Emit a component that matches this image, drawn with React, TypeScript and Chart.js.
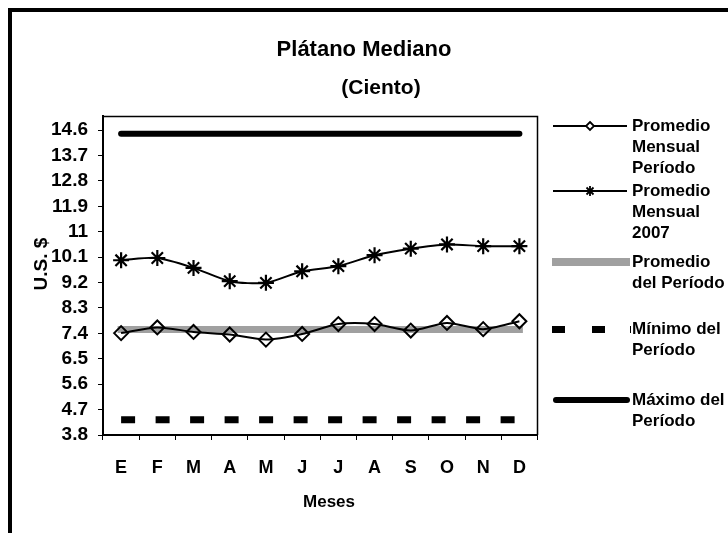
import { useEffect, useRef } from "react";
import { Chart, registerables } from "chart.js";

Chart.register(...registerables);

const months = ["E", "F", "M", "A", "M", "J", "J", "A", "S", "O", "N", "D"];
const promedioMensualPeriodo = [7.41, 7.61, 7.45, 7.36, 7.18, 7.38, 7.73, 7.73, 7.5, 7.77, 7.55, 7.83];
const promedioMensual2007 = [9.99, 10.07, 9.72, 9.25, 9.19, 9.6, 9.78, 10.17, 10.4, 10.55, 10.49, 10.49];
const promedioDelPeriodo = [7.54, 7.54, 7.54, 7.54, 7.54, 7.54, 7.54, 7.54, 7.54, 7.54, 7.54, 7.54];
const minimoDelPeriodo = [4.34, 4.34, 4.34, 4.34, 4.34, 4.34, 4.34, 4.34, 4.34, 4.34, 4.34, 4.34];
const maximoDelPeriodo = [14.47, 14.47, 14.47, 14.47, 14.47, 14.47, 14.47, 14.47, 14.47, 14.47, 14.47, 14.47];
const yTickValues = [3.8, 4.7, 5.6, 6.5, 7.4, 8.3, 9.2, 10.1, 11, 11.9, 12.8, 13.7, 14.6];
const yTickLabels = ["3.8", "4.7", "5.6", "6.5", "7.4", "8.3", "9.2", "10.1", "11", "11.9", "12.8", "13.7", "14.6"];
const legendLabels = [
  ["Promedio", "Mensual", "Período"],
  ["Promedio", "Mensual", "2007"],
  ["Promedio", "del Período"],
  ["Mínimo del", "Período"],
  ["Máximo del", "Período"],
];
const chartTitle = "Plátano Mediano";
const chartSubtitle = "(Ciento)";
const xTitle = "Meses";
const yTitle = "U.S. $";

const FONT = "'Liberation Sans', Arial, Helvetica, sans-serif";
const BAND = "#a0a0a0";

const decorPlugin = {
  id: "decor",
  afterDraw(chart: any) {
    const ctx = chart.ctx as CanvasRenderingContext2D;
    const a = chart.chartArea;
    ctx.save();
    // outer frame (top + left)
    ctx.fillStyle = "#000";
    ctx.fillRect(8, 8, 720, 4);
    ctx.fillRect(8, 8, 4, 525);
    // plot area border top/right
    ctx.strokeStyle = "#000";
    ctx.lineWidth = 1.5;
    ctx.beginPath();
    ctx.moveTo(a.left, a.top + 0.5);
    ctx.lineTo(a.right, a.top + 0.5);
    ctx.lineTo(a.right, a.bottom);
    ctx.stroke();

    // titles
    ctx.fillStyle = "#000";
    ctx.textAlign = "center";
    ctx.textBaseline = "middle";
    ctx.font = `bold 22px ${FONT}`;
    ctx.fillText(chartTitle, 364, 50);
    ctx.font = `bold 21px ${FONT}`;
    ctx.fillText(chartSubtitle, 381, 88);
    ctx.font = `bold 17px ${FONT}`;
    ctx.fillText(xTitle, 329, 502);
    ctx.save();
    ctx.translate(42, 264);
    ctx.rotate(-Math.PI / 2);
    ctx.font = `bold 19px ${FONT}`;
    ctx.fillText(yTitle, 0, 0);
    ctx.restore();

    // legend
    const ys = [126, 191, 262, 329, 400];
    const tx = 632;
    const lh = 21;
    // entry 1
    ctx.lineWidth = 1.8;
    ctx.strokeStyle = "#000";
    ctx.beginPath();
    ctx.moveTo(553, ys[0]);
    ctx.lineTo(627, ys[0]);
    ctx.stroke();
    ctx.beginPath();
    ctx.moveTo(590, ys[0] - 4);
    ctx.lineTo(594, ys[0]);
    ctx.lineTo(590, ys[0] + 4);
    ctx.lineTo(586, ys[0]);
    ctx.closePath();
    ctx.fillStyle = "#fff";
    ctx.fill();
    ctx.stroke();
    // entry 2
    ctx.beginPath();
    ctx.moveTo(553, ys[1]);
    ctx.lineTo(627, ys[1]);
    ctx.moveTo(590, ys[1] - 5);
    ctx.lineTo(590, ys[1] + 5);
    ctx.moveTo(586.5, ys[1] - 3.5);
    ctx.lineTo(593.5, ys[1] + 3.5);
    ctx.moveTo(593.5, ys[1] - 3.5);
    ctx.lineTo(586.5, ys[1] + 3.5);
    ctx.stroke();
    // entry 3
    ctx.fillStyle = BAND;
    ctx.fillRect(552, ys[2] - 4, 78, 8);
    // entry 4
    ctx.fillStyle = "#000";
    ctx.fillRect(552, ys[3] - 3, 13, 7);
    ctx.fillRect(592, ys[3] - 3, 13, 7);
    ctx.fillRect(630, ys[3] - 3, 1, 7);
    // entry 5
    ctx.lineWidth = 6;
    ctx.lineCap = "round";
    ctx.beginPath();
    ctx.moveTo(556, ys[4]);
    ctx.lineTo(627, ys[4]);
    ctx.stroke();

    ctx.fillStyle = "#000";
    ctx.textAlign = "left";
    ctx.textBaseline = "middle";
    ctx.font = `bold 17px ${FONT}`;
    legendLabels.forEach((lines, i) => {
      lines.forEach((t, j) => ctx.fillText(t, tx, ys[i] + j * lh));
    });
    ctx.restore();
  },
};

export default function App() {
  const ref = useRef<HTMLCanvasElement | null>(null);
  useEffect(() => {
    if (!ref.current) return;
    const chart = new Chart(ref.current, {
      type: "line",
      data: {
        labels: months,
        datasets: [
          {
            label: "Promedio Mensual Período",
            data: promedioMensualPeriodo,
            borderColor: "#000",
            borderWidth: 2,
            tension: 0.25,
            pointStyle: "rectRot",
            pointRadius: 7,
            pointBorderWidth: 2,
            pointBorderColor: "#000",
            pointBackgroundColor: "rgba(0,0,0,0)",
          },
          {
            label: "Promedio Mensual 2007",
            data: promedioMensual2007,
            borderColor: "#000",
            borderWidth: 2,
            tension: 0.25,
            pointStyle: "star",
            pointRadius: 8,
            pointBorderWidth: 2.2,
            pointBorderColor: "#000",
            pointBackgroundColor: "#000",
          },
          {
            label: "Promedio del Período",
            data: promedioDelPeriodo,
            borderColor: BAND,
            borderWidth: 7,
            borderCapStyle: "square",
            pointRadius: 0,
          },
          {
            label: "Mínimo del Período",
            data: minimoDelPeriodo,
            borderColor: "#000",
            borderWidth: 7,
            borderDash: [14, 20.5],
            borderCapStyle: "butt",
            pointRadius: 0,
          },
          {
            label: "Máximo del Período",
            data: maximoDelPeriodo,
            borderColor: "#000",
            borderWidth: 6,
            borderCapStyle: "round",
            pointRadius: 0,
          },
        ],
      },
      options: {
        responsive: false,
        animation: false,
        devicePixelRatio: 1,
        layout: { padding: { left: 0, right: 190.5, top: 116, bottom: 38 } },
        plugins: {
          legend: { display: false },
          title: { display: false },
          tooltip: { enabled: false },
        },
        scales: {
          x: {
            type: "category",
            offset: true,
            afterFit: (s: any) => {
              s.height = 60;
            },
            grid: {
              display: true,
              drawOnChartArea: false,
              drawTicks: true,
              tickLength: 5,
              offset: true,
              color: "#000",
              lineWidth: 1,
            },
            border: { display: true, color: "#000", width: 2 },
            ticks: {
              color: "#000",
              font: { family: FONT, size: 18, weight: "bold" },
              padding: 17,
              maxRotation: 0,
              autoSkip: false,
            },
          },
          y: {
            type: "linear",
            min: 3.8,
            max: 15.1,
            afterFit: (s: any) => {
              s.width = 103;
            },
            afterBuildTicks: (s: any) => {
              s.ticks = yTickValues.map((v) => ({ value: v }));
            },
            grid: {
              display: true,
              drawOnChartArea: false,
              drawTicks: true,
              tickLength: 5,
              color: "#000",
              lineWidth: 1,
            },
            border: { display: true, color: "#000", width: 2 },
            ticks: {
              color: "#000",
              font: { family: FONT, size: 19, weight: "bold" },
              padding: 10,
              autoSkip: false,
              callback: (_v: any, i: number) => yTickLabels[i],
            },
          },
        },
      },
      plugins: [decorPlugin],
    });
    return () => chart.destroy();
  }, []);
  return (
    <div style={{ position: "fixed", left: 0, top: 0, width: 728, height: 533, background: "#fff" }}>
      <canvas ref={ref} width={728} height={533} style={{ display: "block" }} />
    </div>
  );
}
